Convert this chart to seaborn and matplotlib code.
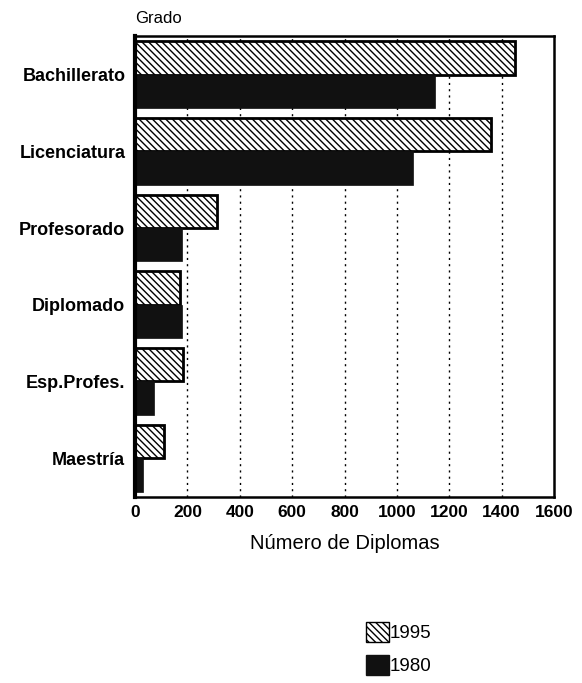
import matplotlib
matplotlib.use("Agg")
import matplotlib.pyplot as plt
import seaborn as sns
import pandas as pd
from matplotlib.patches import Patch

categories = ["Bachillerato", "Licenciatura", "Profesorado", "Diplomado", "Esp.Profes.", "Maestría"]
values_1995 = [1450, 1360, 313, 173, 185, 109]
values_1980 = [1145, 1060, 181, 181, 74, 32]
years = ["1995", "1980"]
xticks = [0, 200, 400, 600, 800, 1000, 1200, 1400, 1600]

df = pd.DataFrame({
    "Grado": categories * 2,
    "Diplomas": values_1995 + values_1980,
    "Año": [years[0]] * len(categories) + [years[1]] * len(categories),
})

sns.set_style("white")
plt.rcParams["font.family"] = ["Liberation Sans", "DejaVu Sans"]
plt.rcParams["hatch.linewidth"] = 1.0
for k in ["text.color", "axes.labelcolor", "xtick.color", "ytick.color"]:
    plt.rcParams[k] = "black"

fig = plt.figure(figsize=(5.82, 6.83), dpi=100)
ax = fig.add_axes([0.232, 0.273, 0.72, 0.674])

sns.barplot(data=df, y="Grado", x="Diplomas", hue="Año", order=categories,
            hue_order=years, orient="h", width=0.87, ax=ax,
            palette={"1995": "white", "1980": "#111111"},
            edgecolor="black", linewidth=2, legend=False, saturation=1)

HATCH = "\\\\\\\\\\"
for p in ax.containers[0]:
    p.set_hatch(HATCH)
    p.set_facecolor("white")
    p.set_edgecolor("black")
for p in ax.containers[1]:
    p.set_facecolor("#111111")
    p.set_edgecolor("#111111")
    p.set_linewidth(0.5)

ax.set_xlim(0, 1600)
ax.set_ylim(len(categories) - 0.5, -0.5)
ax.set_xticks(xticks)
ax.set_xticklabels([str(t) for t in xticks], fontsize=12.5, fontweight="bold")
ax.set_yticklabels(categories, fontsize=13, fontweight="bold")
ax.tick_params(axis="x", length=4, width=1, direction="in", pad=6)
ax.tick_params(axis="y", length=0, pad=7)
ax.set_ylabel("")
ax.set_xlabel("Número de Diplomas", fontsize=14.5, labelpad=10)

for t in xticks[1:-1]:
    ax.axvline(t, color="black", linestyle=(0, (1.5, 3)), linewidth=1, zorder=0)

for side in ["top", "right", "bottom"]:
    ax.spines[side].set_linewidth(1.8)
    ax.spines[side].set_color("black")
ax.spines["left"].set_linewidth(3)
ax.spines["left"].set_color("black")

fig.text(0.232, 0.962, "Grado", fontsize=12, ha="left", va="bottom")

handles = [Patch(facecolor="white", edgecolor="black", hatch=HATCH, linewidth=1),
           Patch(facecolor="#111111", edgecolor="#111111")]
fig.legend(handles, years, loc="center", bbox_to_anchor=(0.685, 0.05), frameon=False,
           fontsize=13.5, handlelength=1.2, handleheight=1.2, handletextpad=0.05,
           labelspacing=0.7)

fig.savefig("out.png", dpi=100)
